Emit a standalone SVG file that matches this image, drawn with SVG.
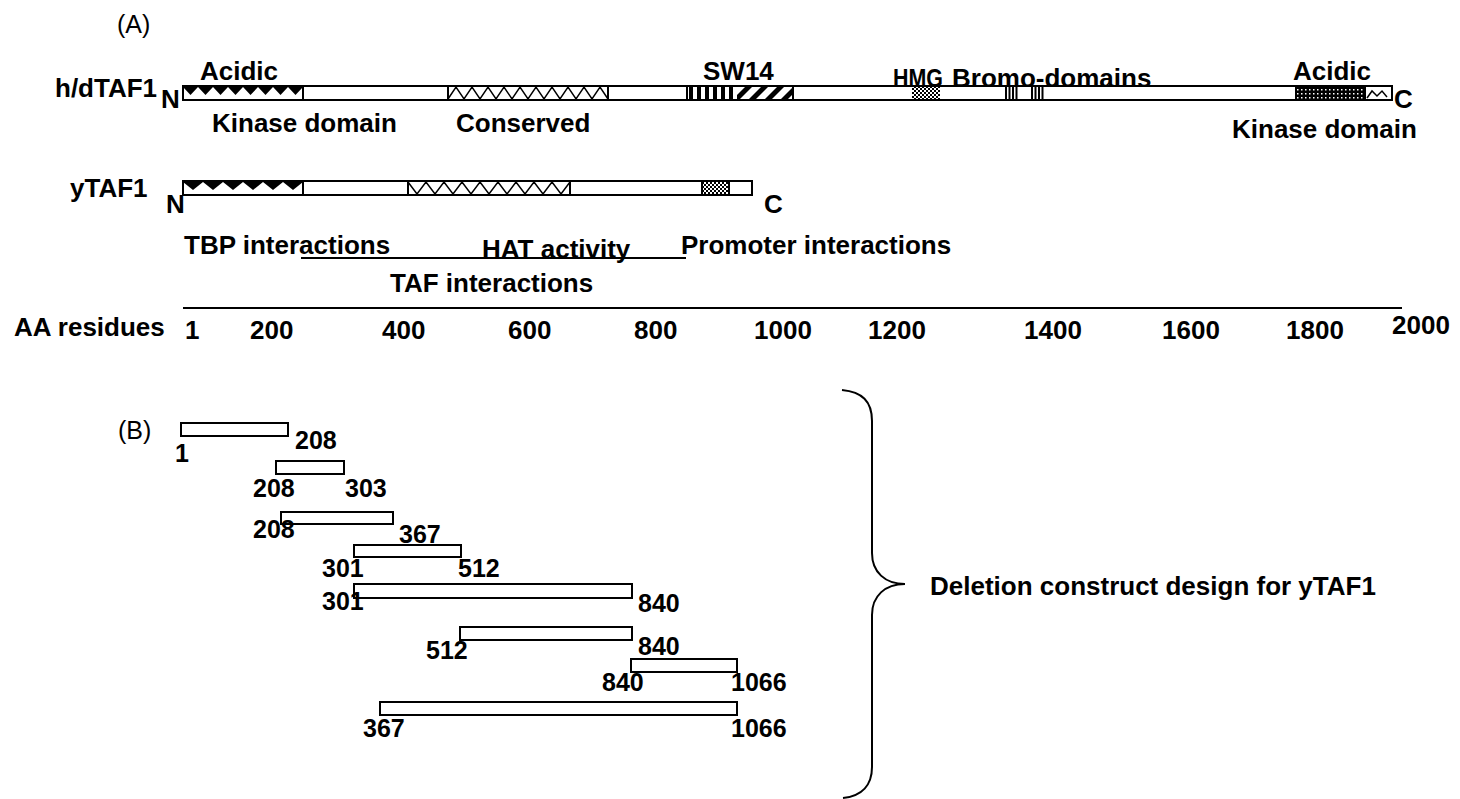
<svg xmlns="http://www.w3.org/2000/svg" width="1460" height="799" viewBox="0 0 1460 799">
<style>
.b{font-family:"Liberation Sans",Arial,sans-serif;font-weight:bold;font-size:26px;fill:#000}
.n{font-family:"Liberation Sans",Arial,sans-serif;font-weight:bold;font-size:25px;fill:#000}
.r{font-family:"Liberation Sans",Arial,sans-serif;font-size:25px;fill:#000}
.bar{fill:#fff;stroke:#000;stroke-width:2}
.div{stroke:#000;stroke-width:2}
.zz{fill:none;stroke:#000;stroke-width:1.5}
.ln{stroke:#000;stroke-width:2;fill:none}
</style>
<defs>
<pattern id="checker" width="4" height="4" patternUnits="userSpaceOnUse">
<rect width="4" height="4" fill="#fff"/>
<rect width="2" height="2" fill="#000"/>
<rect x="2" y="2" width="2" height="2" fill="#000"/>
</pattern>
<pattern id="dots" width="4" height="4" patternUnits="userSpaceOnUse">
<rect width="4" height="4" fill="#000"/>
<rect x="1" y="1" width="1.5" height="1.5" fill="#fff"/>
</pattern>
<clipPath id="swclip"><rect x="737" y="87" width="56" height="12"/></clipPath>
</defs>
<rect width="1460" height="799" fill="#fff"/>

<g id="panel-A-label"><text class="r" x="117" y="33">(A)</text></g>

<g id="hdTAF1">
<text class="b" x="55" y="97">h/dTAF1</text>
<text class="b" x="161" y="108" font-size="24">N</text>
<rect class="bar" x="183" y="86" width="1209" height="14"/>
<path d="M183,87h15l-7.5,8zM198,87h15l-7.5,8zM213,87h15l-7.5,8zM228,87h15l-7.5,8zM243,87h15l-7.5,8zM258,87h15l-7.5,8zM273,87h15l-7.5,8zM288,87h15l-7.5,8z" fill="#000"/>
<polyline class="zz" points="448,99 456,87 464,99 472,87 480,99 488,87 496,99 504,87 512,99 520,87 528,99 536,87 544,99 552,87 560,99 568,87 576,99 584,87 592,99 600,87 608,99"/>
<g fill="#000"><rect x="689" y="87" width="4" height="12"/><rect x="697" y="87" width="4" height="12"/><rect x="705" y="87" width="4" height="12"/><rect x="713" y="87" width="4" height="12"/><rect x="721" y="87" width="4" height="12"/><rect x="729" y="87" width="4" height="12"/></g>
<g clip-path="url(#swclip)" fill="#000"><polygon points="733,99 740,99 752,87 745,87"/><polygon points="749,99 756,99 768,87 761,87"/><polygon points="765,99 772,99 784,87 777,87"/><polygon points="781,99 788,99 800,87 793,87"/></g>
<rect x="912" y="87" width="28" height="12" fill="url(#checker)"/>
<g class="div" stroke-width="1.3"><line x1="1006" y1="87" x2="1006" y2="99"/><line x1="1009.5" y1="87" x2="1009.5" y2="99"/><line x1="1013" y1="87" x2="1013" y2="99"/><line x1="1016.5" y1="87" x2="1016.5" y2="99"/><line x1="1032" y1="87" x2="1032" y2="99"/><line x1="1035.5" y1="87" x2="1035.5" y2="99"/><line x1="1039" y1="87" x2="1039" y2="99"/><line x1="1042.5" y1="87" x2="1042.5" y2="99"/></g>
<rect x="1296" y="87" width="69" height="12" fill="url(#dots)"/>
<polyline class="zz" points="1367,98 1372,91 1377,96 1382,91 1387,97"/>
<g class="div"><line x1="303" y1="86" x2="303" y2="100"/><line x1="448" y1="86" x2="448" y2="100"/><line x1="608" y1="86" x2="608" y2="100"/><line x1="687" y1="86" x2="687" y2="100"/><line x1="793" y1="86" x2="793" y2="100"/><line x1="1296" y1="86" x2="1296" y2="100"/><line x1="1365" y1="86" x2="1365" y2="100"/></g>
<text class="b" x="1394" y="108" font-size="24">C</text>
</g>

<g id="hdTAF1-labels">
<text class="b" x="200" y="80">Acidic</text>
<text class="b" x="212" y="132">Kinase domain</text>
<text class="b" x="456" y="132">Conserved</text>
<text class="b" x="703" y="80">SW14</text>
<text class="b" x="893" y="87" font-size="24" textLength="50" lengthAdjust="spacingAndGlyphs">HMG</text>
<text class="b" x="952" y="87">Bromo-domains</text>
<text class="b" x="1293" y="80">Acidic</text>
<text class="b" x="1232" y="138">Kinase domain</text>
</g>

<g id="yTAF1">
<text class="b" x="70" y="197">yTAF1</text>
<text class="b" x="166" y="213" font-size="24">N</text>
<rect class="bar" x="183" y="181" width="569" height="14"/>
<path d="M183,182h20l-10,8zM203,182h20l-10,8zM223,182h20l-10,8zM243,182h20l-10,8zM263,182h20l-10,8zM283,182h20l-10,8z" fill="#000"/>
<polyline class="zz" points="408,182 417,194 426,182 435,194 444,182 453,194 462,182 471,194 480,182 489,194 498,182 507,194 516,182 525,194 534,182 543,194 552,182 561,194 570,182"/>
<rect x="702" y="182" width="27" height="12" fill="url(#checker)"/>
<g class="div"><line x1="303" y1="181" x2="303" y2="195"/><line x1="408" y1="181" x2="408" y2="195"/><line x1="570" y1="181" x2="570" y2="195"/><line x1="702" y1="181" x2="702" y2="195"/><line x1="729" y1="181" x2="729" y2="195"/></g>
<text class="b" x="764" y="213">C</text>
</g>

<g id="interactions">
<text class="b" x="184" y="254">TBP interactions</text>
<text class="b" x="482" y="258">HAT activity</text>
<text class="b" x="681" y="254">Promoter interactions</text>
<text class="b" x="390" y="292">TAF interactions</text>
</g>

<g id="axis">
<text class="b" x="14" y="336">AA residues</text>
<text class="b" x="185" y="339">1</text>
<text class="b" x="250" y="339">200</text>
<text class="b" x="382" y="339">400</text>
<text class="b" x="508" y="339">600</text>
<text class="b" x="634" y="339">800</text>
<text class="b" x="754" y="339">1000</text>
<text class="b" x="868" y="339">1200</text>
<text class="b" x="1024" y="339">1400</text>
<text class="b" x="1162" y="339">1600</text>
<text class="b" x="1286" y="339">1800</text>
<text class="b" x="1392" y="334">2000</text>
</g>

<g id="panel-B-label"><text class="r" x="118" y="439">(B)</text></g>

<g id="construct-1-208"><rect class="bar" x="181" y="423" width="107" height="13"/><text class="n" x="175" y="462">1</text><text class="n" x="295" y="449">208</text></g>
<g id="construct-208-303"><rect class="bar" x="276" y="461" width="68" height="13"/><text class="n" x="253" y="497">208</text><text class="n" x="345" y="497">303</text></g>
<g id="construct-208-367"><rect class="bar" x="281" y="512" width="112" height="12"/><text class="n" x="253" y="538">208</text><text class="n" x="399" y="543">367</text></g>
<g id="construct-301-512"><rect class="bar" x="354" y="545" width="107" height="12"/><text class="n" x="322" y="577">301</text><text class="n" x="458" y="577">512</text></g>
<g id="construct-301-840"><rect class="bar" x="354" y="584" width="278" height="14"/><text class="n" x="322" y="610">301</text><text class="n" x="638" y="612">840</text></g>
<g id="construct-512-840"><rect class="bar" x="460" y="627" width="172" height="13"/><text class="n" x="426" y="659">512</text><text class="n" x="638" y="655">840</text></g>
<g id="construct-840-1066"><rect class="bar" x="631" y="659" width="106" height="13"/><text class="n" x="602" y="691">840</text><text class="n" x="731" y="691">1066</text></g>
<g id="construct-367-1066"><rect class="bar" x="380" y="702" width="357" height="13"/><text class="n" x="363" y="737">367</text><text class="n" x="731" y="737">1066</text></g>

<g id="connectors">
<line class="ln" x1="301" y1="258" x2="686" y2="258"/>
<line class="ln" x1="183" y1="308" x2="1402" y2="308" stroke-width="2.5"/>
<path class="ln" d="M842,390 C862,392 872,401 872,421 L872,553 C872,572 885,584 905,584 C885,584 872,596 872,615 L872,767 C872,785 862,796 843,798"/>
</g>

<g id="deletion-label"><text class="b" x="930" y="595">Deletion construct design for yTAF1</text></g>
</svg>
